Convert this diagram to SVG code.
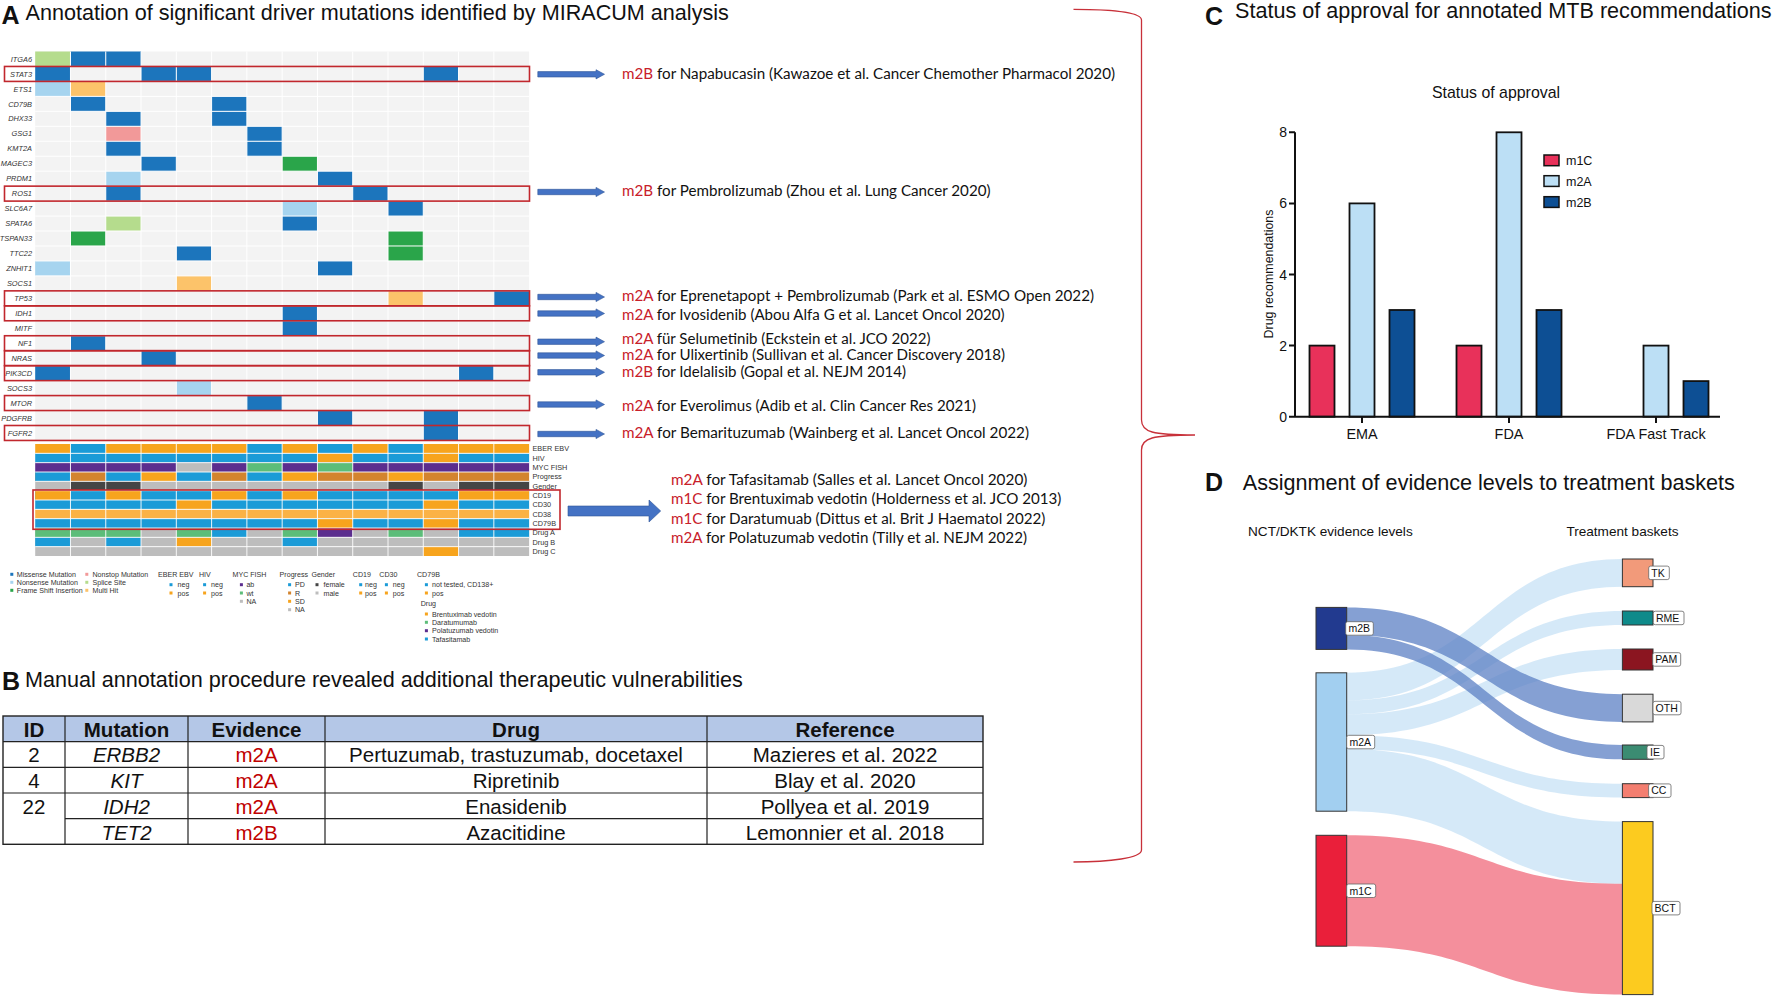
<svg xmlns="http://www.w3.org/2000/svg" width="1772" height="1000" viewBox="0 0 1772 1000">
<style>
text{font-family:"Liberation Sans",Arial,sans-serif;fill:#111}
.ttl{font-size:21.6px}
.lbl{font-size:25px;font-weight:bold}
.gene{font-size:7.4px;font-style:italic;fill:#333;text-anchor:end}
.trk{font-size:7.3px;fill:#333}
.leg{font-size:7.1px;fill:#333}
.cal{font-family:Lato,"Liberation Sans",sans-serif;font-size:14.5px;fill:#111}
.red{fill:#c8202a}
.mb{fill:#1c75bc}.lb{fill:#a6d4ef}.lg{fill:#b5dc8d}.gr{fill:#2aa54a}.or{fill:#fcc36a}.pk{fill:#f29999}
.aO{fill:#f7a41d}.aB{fill:#1b9bd7}.aP{fill:#5b2d8e}.aG{fill:#bdbdbd}.aGr{fill:#5cbd79}.aBr{fill:#d3842e}.aD{fill:#454545}.aL{fill:#fbb245}
.rbox{fill:none;stroke:#c1272d;stroke-width:1.6}
.arr{fill:#4472c4;stroke:#2f5597;stroke-width:0.6}
.tb{font-size:20.5px;text-anchor:middle}
.th{font-size:20.5px;font-weight:bold;text-anchor:middle}
.ev{fill:#c00000}
.bar{stroke:#111;stroke-width:1.8}
.ax{stroke:#111;stroke-width:2;fill:none}
.tick{font-size:14px;text-anchor:end}
.node{stroke:#333;stroke-width:1}
.slb{fill:#fff;stroke:#666;stroke-width:0.8}
.st{font-size:10.5px}
.l2a{fill:#a2cff0;opacity:0.45}
.l2b{fill:#5c80c4;opacity:0.75}
.l1c{fill:#ea1f3a;opacity:0.5}
</style>
<defs>
<path id="sarr" d="M537.8,-2.7 H596 V-4.6 L604.5,0 L596,4.6 V2.7 H537.8 Z"/>
</defs>
<rect width="1772" height="1000" fill="#fff"/>

<!-- Panel A title -->
<g id="titleA">
<text x="1.5" y="24" class="lbl">A</text>
<text x="25.5" y="19.5" class="ttl">Annotation of significant driver mutations identified by MIRACUM analysis</text>
</g>

<!-- Oncoprint -->
<g id="oncoprint">
<rect x="35.2" y="51.5" width="493.92" height="388.96" fill="#f3f3f3"/>
<g id="cells">
<rect class="lg" x="35.2" y="51.5" width="35.28" height="14.96"/>
<rect class="mb" x="70.48" y="51.5" width="35.28" height="14.96"/>
<rect class="mb" x="105.76" y="51.5" width="35.28" height="14.96"/>
<rect class="mb" x="35.2" y="66.46" width="35.28" height="14.96"/>
<rect class="mb" x="141.04" y="66.46" width="35.28" height="14.96"/>
<rect class="mb" x="176.32" y="66.46" width="35.28" height="14.96"/>
<rect class="mb" x="423.28" y="66.46" width="35.28" height="14.96"/>
<rect class="lb" x="35.2" y="81.42" width="35.28" height="14.96"/>
<rect class="or" x="70.48" y="81.42" width="35.28" height="14.96"/>
<rect class="mb" x="70.48" y="96.38" width="35.28" height="14.96"/>
<rect class="mb" x="211.6" y="96.38" width="35.28" height="14.96"/>
<rect class="mb" x="105.76" y="111.34" width="35.28" height="14.96"/>
<rect class="mb" x="211.6" y="111.34" width="35.28" height="14.96"/>
<rect class="pk" x="105.76" y="126.3" width="35.28" height="14.96"/>
<rect class="mb" x="246.88" y="126.3" width="35.28" height="14.96"/>
<rect class="mb" x="105.76" y="141.26" width="35.28" height="14.96"/>
<rect class="mb" x="246.88" y="141.26" width="35.28" height="14.96"/>
<rect class="mb" x="141.04" y="156.22" width="35.28" height="14.96"/>
<rect class="gr" x="282.16" y="156.22" width="35.28" height="14.96"/>
<rect class="lb" x="105.76" y="171.18" width="35.28" height="14.96"/>
<rect class="mb" x="317.44" y="171.18" width="35.28" height="14.96"/>
<rect class="mb" x="105.76" y="186.14" width="35.28" height="14.96"/>
<rect class="mb" x="352.72" y="186.14" width="35.28" height="14.96"/>
<rect class="lb" x="282.16" y="201.1" width="35.28" height="14.96"/>
<rect class="mb" x="388" y="201.1" width="35.28" height="14.96"/>
<rect class="lg" x="105.76" y="216.06" width="35.28" height="14.96"/>
<rect class="mb" x="282.16" y="216.06" width="35.28" height="14.96"/>
<rect class="gr" x="70.48" y="231.02" width="35.28" height="14.96"/>
<rect class="gr" x="388" y="231.02" width="35.28" height="14.96"/>
<rect class="mb" x="176.32" y="245.98" width="35.28" height="14.96"/>
<rect class="gr" x="388" y="245.98" width="35.28" height="14.96"/>
<rect class="lb" x="35.2" y="260.94" width="35.28" height="14.96"/>
<rect class="mb" x="317.44" y="260.94" width="35.28" height="14.96"/>
<rect class="or" x="176.32" y="275.9" width="35.28" height="14.96"/>
<rect class="or" x="388" y="290.86" width="35.28" height="14.96"/>
<rect class="mb" x="493.84" y="290.86" width="35.28" height="14.96"/>
<rect class="mb" x="282.16" y="305.82" width="35.28" height="14.96"/>
<rect class="mb" x="282.16" y="320.78" width="35.28" height="14.96"/>
<rect class="mb" x="70.48" y="335.74" width="35.28" height="14.96"/>
<rect class="mb" x="141.04" y="350.7" width="35.28" height="14.96"/>
<rect class="mb" x="35.2" y="365.66" width="35.28" height="14.96"/>
<rect class="mb" x="458.56" y="365.66" width="35.28" height="14.96"/>
<rect class="lb" x="176.32" y="380.62" width="35.28" height="14.96"/>
<rect class="mb" x="246.88" y="395.58" width="35.28" height="14.96"/>
<rect class="mb" x="317.44" y="410.54" width="35.28" height="14.96"/>
<rect class="mb" x="423.28" y="410.54" width="35.28" height="14.96"/>
<rect class="mb" x="423.28" y="425.5" width="35.28" height="14.96"/>
</g>
<path stroke="#fff" stroke-width="1" fill="none" d="M70.48,51.5V440.46M105.76,51.5V440.46M141.04,51.5V440.46M176.32,51.5V440.46M211.6,51.5V440.46M246.88,51.5V440.46M282.16,51.5V440.46M317.44,51.5V440.46M352.72,51.5V440.46M388,51.5V440.46M423.28,51.5V440.46M458.56,51.5V440.46M493.84,51.5V440.46M35.2,66.46H529.12M35.2,81.42H529.12M35.2,96.38H529.12M35.2,111.34H529.12M35.2,126.3H529.12M35.2,141.26H529.12M35.2,156.22H529.12M35.2,171.18H529.12M35.2,186.14H529.12M35.2,201.1H529.12M35.2,216.06H529.12M35.2,231.02H529.12M35.2,245.98H529.12M35.2,260.94H529.12M35.2,275.9H529.12M35.2,290.86H529.12M35.2,305.82H529.12M35.2,320.78H529.12M35.2,335.74H529.12M35.2,350.7H529.12M35.2,365.66H529.12M35.2,380.62H529.12M35.2,395.58H529.12M35.2,410.54H529.12M35.2,425.5H529.12"/>
<g id="genes">
<text class="gene" x="32" y="61.6">ITGA6</text>
<text class="gene" x="32" y="76.5">STAT3</text>
<text class="gene" x="32" y="91.5">ETS1</text>
<text class="gene" x="32" y="106.5">CD79B</text>
<text class="gene" x="32" y="121.4">DHX33</text>
<text class="gene" x="32" y="136.4">GSG1</text>
<text class="gene" x="32" y="151.3">KMT2A</text>
<text class="gene" x="32" y="166.3">MAGEC3</text>
<text class="gene" x="32" y="181.3">PRDM1</text>
<text class="gene" x="32" y="196.2">ROS1</text>
<text class="gene" x="32" y="211.2">SLC6A7</text>
<text class="gene" x="32" y="226.1">SPATA6</text>
<text class="gene" x="32" y="241.1">TSPAN33</text>
<text class="gene" x="32" y="256.1">TTC22</text>
<text class="gene" x="32" y="271">ZNHIT1</text>
<text class="gene" x="32" y="286">SOCS1</text>
<text class="gene" x="32" y="300.9">TP53</text>
<text class="gene" x="32" y="315.9">IDH1</text>
<text class="gene" x="32" y="330.9">MITF</text>
<text class="gene" x="32" y="345.8">NF1</text>
<text class="gene" x="32" y="360.8">NRAS</text>
<text class="gene" x="32" y="375.7">PIK3CD</text>
<text class="gene" x="32" y="390.7">SOCS3</text>
<text class="gene" x="32" y="405.7">MTOR</text>
<text class="gene" x="32" y="420.6">PDGFRB</text>
<text class="gene" x="32" y="435.6">FGFR2</text>
</g>
<g id="redboxes">
<rect class="rbox" x="4.5" y="66.46" width="525" height="14.96"/>
<rect class="rbox" x="4.5" y="186.14" width="525" height="14.96"/>
<rect class="rbox" x="4.5" y="290.86" width="525" height="14.96"/>
<rect class="rbox" x="4.5" y="305.82" width="525" height="14.96"/>
<rect class="rbox" x="4.5" y="335.74" width="525" height="14.96"/>
<rect class="rbox" x="4.5" y="350.7" width="525" height="14.96"/>
<rect class="rbox" x="4.5" y="365.66" width="525" height="14.96"/>
<rect class="rbox" x="4.5" y="395.58" width="525" height="14.96"/>
<rect class="rbox" x="4.5" y="425.5" width="525" height="14.96"/>
</g>
</g>

<!-- Annotation tracks -->
<g id="tracks">
<rect class="aO" x="35.2" y="444" width="493.92" height="9.33"/>
<rect class="aB" x="70.48" y="444" width="35.28" height="9.33"/>
<rect class="aB" x="246.88" y="444" width="35.28" height="9.33"/>
<rect class="aB" x="317.44" y="444" width="35.28" height="9.33"/>
<rect class="aB" x="388" y="444" width="35.28" height="9.33"/>
<rect class="aB" x="35.2" y="453.33" width="493.92" height="9.34"/>
<rect class="aO" x="317.44" y="453.33" width="35.28" height="9.34"/>
<rect class="aO" x="423.28" y="453.33" width="35.28" height="9.34"/>
<rect class="aP" x="35.2" y="462.67" width="493.92" height="9.33"/>
<rect class="aG" x="176.32" y="462.67" width="35.28" height="9.33"/>
<rect class="aGr" x="246.88" y="462.67" width="35.28" height="9.33"/>
<rect class="aGr" x="317.44" y="462.67" width="35.28" height="9.33"/>
<rect class="aBr" x="35.2" y="472" width="493.92" height="9.33"/>
<rect class="aB" x="35.2" y="472" width="35.28" height="9.33"/>
<rect class="aB" x="105.76" y="472" width="35.28" height="9.33"/>
<rect class="aB" x="176.32" y="472" width="35.28" height="9.33"/>
<rect class="aB" x="246.88" y="472" width="35.28" height="9.33"/>
<rect class="aO" x="141.04" y="472" width="35.28" height="9.33"/>
<rect class="aO" x="282.16" y="472" width="35.28" height="9.33"/>
<rect class="aO" x="388" y="472" width="35.28" height="9.33"/>
<rect class="aG" x="35.2" y="481.33" width="493.92" height="9.34"/>
<rect class="aD" x="70.48" y="481.33" width="70.56" height="9.34"/>
<rect class="aD" x="388" y="481.33" width="35.28" height="9.34"/>
<rect class="aD" x="458.56" y="481.33" width="70.56" height="9.34"/>
<rect class="aB" x="35.2" y="490.67" width="493.92" height="9.33"/>
<rect class="aO" x="35.2" y="490.67" width="35.28" height="9.33"/>
<rect class="aO" x="105.76" y="490.67" width="35.28" height="9.33"/>
<rect class="aO" x="211.6" y="490.67" width="35.28" height="9.33"/>
<rect class="aO" x="282.16" y="490.67" width="35.28" height="9.33"/>
<rect class="aO" x="458.56" y="490.67" width="70.56" height="9.33"/>
<rect class="aB" x="35.2" y="500" width="493.92" height="9.33"/>
<rect class="aO" x="176.32" y="500" width="35.28" height="9.33"/>
<rect class="aO" x="423.28" y="500" width="35.28" height="9.33"/>
<rect class="aL" x="35.2" y="509.33" width="493.92" height="9.34"/>
<rect class="aB" x="35.2" y="518.67" width="493.92" height="9.33"/>
<rect class="aO" x="317.44" y="518.67" width="35.28" height="9.33"/>
<rect class="aO" x="423.28" y="518.67" width="35.28" height="9.33"/>
<rect class="aG" x="35.2" y="528" width="493.92" height="9.33"/>
<rect class="aGr" x="35.2" y="528" width="105.84" height="9.33"/>
<rect class="aGr" x="176.32" y="528" width="35.28" height="9.33"/>
<rect class="aGr" x="282.16" y="528" width="35.28" height="9.33"/>
<rect class="aGr" x="388" y="528" width="35.28" height="9.33"/>
<rect class="aB" x="211.6" y="528" width="35.28" height="9.33"/>
<rect class="aB" x="458.56" y="528" width="70.56" height="9.33"/>
<rect class="aP" x="317.44" y="528" width="35.28" height="9.33"/>
<rect class="aG" x="35.2" y="537.33" width="493.92" height="9.34"/>
<rect class="aB" x="35.2" y="537.33" width="35.28" height="9.34"/>
<rect class="aB" x="105.76" y="537.33" width="35.28" height="9.34"/>
<rect class="aB" x="282.16" y="537.33" width="35.28" height="9.34"/>
<rect class="aO" x="176.32" y="537.33" width="35.28" height="9.34"/>
<rect class="aG" x="35.2" y="546.67" width="493.92" height="9.33"/>
<rect class="aO" x="423.28" y="546.67" width="35.28" height="9.33"/>
<path stroke="#fff" stroke-width="0.9" fill="none" d="M70.48,444V556M105.76,444V556M141.04,444V556M176.32,444V556M211.6,444V556M246.88,444V556M282.16,444V556M317.44,444V556M352.72,444V556M388,444V556M423.28,444V556M458.56,444V556M493.84,444V556M35.2,453.33H529.12M35.2,462.67H529.12M35.2,472H529.12M35.2,481.33H529.12M35.2,490.67H529.12M35.2,500H529.12M35.2,509.33H529.12M35.2,518.67H529.12M35.2,528H529.12M35.2,537.33H529.12M35.2,546.67H529.12"/>
<text class="trk" x="532.5" y="451.3">EBER EBV</text>
<text class="trk" x="532.5" y="460.6">HIV</text>
<text class="trk" x="532.5" y="470">MYC FISH</text>
<text class="trk" x="532.5" y="479.3">Progress</text>
<text class="trk" x="532.5" y="488.6">Gender</text>
<text class="trk" x="532.5" y="498">CD19</text>
<text class="trk" x="532.5" y="507.3">CD30</text>
<text class="trk" x="532.5" y="516.6">CD38</text>
<text class="trk" x="532.5" y="526">CD79B</text>
<text class="trk" x="532.5" y="535.3">Drug A</text>
<text class="trk" x="532.5" y="544.6">Drug B</text>
<text class="trk" x="532.5" y="554">Drug C</text>
<rect class="rbox" x="33" y="490" width="527" height="39.3"/>
</g>

<!-- Legend -->
<g id="legend">
<rect class="mb" x="10.3" y="572.8" width="3" height="3"/><text class="leg" x="16.8" y="576.8">Missense Mutation</text>
<rect class="lb" x="10.3" y="580.8" width="3" height="3"/><text class="leg" x="16.8" y="584.8">Nonsense Mutation</text>
<rect class="gr" x="10.3" y="588.8" width="3" height="3"/><text class="leg" x="16.8" y="592.8">Frame Shift Insertion</text>
<rect class="pk" x="85.3" y="572.8" width="3" height="3"/><text class="leg" x="92.5" y="576.8">Nonstop Mutation</text>
<rect class="lg" x="85.3" y="580.8" width="3" height="3"/><text class="leg" x="92.5" y="584.8">Splice Site</text>
<rect class="or" x="85.3" y="588.8" width="3" height="3"/><text class="leg" x="92.5" y="592.8">Multi Hit</text>
<text class="leg" x="158" y="576.8">EBER EBV</text>
<text class="leg" x="199" y="576.8">HIV</text>
<text class="leg" x="232.5" y="576.8">MYC FISH</text>
<text class="leg" x="279.6" y="576.8">Progress</text>
<text class="leg" x="311.4" y="576.8">Gender</text>
<text class="leg" x="352.8" y="576.8">CD19</text>
<text class="leg" x="379.3" y="576.8">CD30</text>
<text class="leg" x="417" y="576.8">CD79B</text>
<rect class="aB" x="169.5" y="583.2" width="3" height="3"/><text class="leg" x="177.5" y="587.2">neg</text>
<rect class="aO" x="169.5" y="591.5" width="3" height="3"/><text class="leg" x="177.5" y="595.5">pos</text>
<rect class="aB" x="203.1" y="583.2" width="3" height="3"/><text class="leg" x="211" y="587.2">neg</text>
<rect class="aO" x="203.1" y="591.5" width="3" height="3"/><text class="leg" x="211" y="595.5">pos</text>
<rect class="aP" x="239.9" y="583.2" width="3" height="3"/><text class="leg" x="246.4" y="587.2">ab</text>
<rect class="aGr" x="239.9" y="591.5" width="3" height="3"/><text class="leg" x="246.4" y="595.5">wt</text>
<rect class="aG" x="239.9" y="599.8" width="3" height="3"/><text class="leg" x="246.4" y="603.8">NA</text>
<rect class="aB" x="288.1" y="583.2" width="3" height="3"/><text class="leg" x="295" y="587.2">PD</text>
<rect class="aBr" x="288.1" y="591.5" width="3" height="3"/><text class="leg" x="295" y="595.5">R</text>
<rect class="aO" x="288.1" y="599.8" width="3" height="3"/><text class="leg" x="295" y="603.8">SD</text>
<rect class="aG" x="288.1" y="608.2" width="3" height="3"/><text class="leg" x="295" y="612.2">NA</text>
<rect class="aD" x="315.5" y="583.2" width="3" height="3"/><text class="leg" x="323.5" y="587.2">female</text>
<rect class="aG" x="315.5" y="591.5" width="3" height="3"/><text class="leg" x="323.5" y="595.5">male</text>
<rect class="aB" x="359.2" y="583.2" width="3" height="3"/><text class="leg" x="365" y="587.2">neg</text>
<rect class="aO" x="359.2" y="591.5" width="3" height="3"/><text class="leg" x="365" y="595.5">pos</text>
<rect class="aB" x="384.9" y="583.2" width="3" height="3"/><text class="leg" x="392.8" y="587.2">neg</text>
<rect class="aO" x="384.9" y="591.5" width="3" height="3"/><text class="leg" x="392.8" y="595.5">pos</text>
<rect class="aB" x="424.9" y="583.2" width="3" height="3"/><text class="leg" x="432" y="587.2">not tested, CD138+</text>
<rect class="aO" x="424.9" y="591.5" width="3" height="3"/><text class="leg" x="432" y="595.5">pos</text>
<text class="leg" x="420.7" y="605.8">Drug</text>
<rect class="aO" x="424.9" y="612.5" width="3" height="3"/><text class="leg" x="432" y="616.5">Brentuximab vedotin</text>
<rect class="aGr" x="424.9" y="620.8" width="3" height="3"/><text class="leg" x="432" y="624.8">Daratumumab</text>
<rect class="aP" x="424.9" y="629.2" width="3" height="3"/><text class="leg" x="432" y="633.2">Polatuzumab vedotin</text>
<rect class="aB" x="424.9" y="637.5" width="3" height="3"/><text class="leg" x="432" y="641.5">Tafasitamab</text>
</g>

<!-- Connectors -->
<g id="connectors">
<use href="#sarr" class="arr" y="74.3"/>
<use href="#sarr" class="arr" y="192"/>
<use href="#sarr" class="arr" y="297"/>
<use href="#sarr" class="arr" y="313.5"/>
<use href="#sarr" class="arr" y="341.7"/>
<use href="#sarr" class="arr" y="355.5"/>
<use href="#sarr" class="arr" y="372.3"/>
<use href="#sarr" class="arr" y="404.5"/>
<use href="#sarr" class="arr" y="434"/>
<path class="arr" d="M568,506 H649 V500 L660.7,511 L649,522 V516 H568 Z"/>
<path fill="none" stroke="#c8313a" stroke-width="1.3" d="M1073.5,9.3 C1110,9.3 1141.5,12 1141.5,20 L1141.5,420 C1141.5,432 1152,435 1195,435 C1152,435 1141.5,438 1141.5,450 L1141.5,850 C1141.5,858 1110,862 1073.5,862"/>
</g>

<!-- Annotations text -->
<g id="recs">
<text class="cal" x="622" y="79.3" textLength="493" lengthAdjust="spacingAndGlyphs"><tspan class="red">m2B</tspan> for Napabucasin (Kawazoe et al. Cancer Chemother Pharmacol 2020)</text>
<text class="cal" x="622" y="195.7" textLength="368.6" lengthAdjust="spacingAndGlyphs"><tspan class="red">m2B</tspan> for Pembrolizumab (Zhou et al. Lung Cancer 2020)</text>
<text class="cal" x="622" y="300.5" textLength="472" lengthAdjust="spacingAndGlyphs"><tspan class="red">m2A</tspan> for Eprenetapopt + Pembrolizumab (Park et al. ESMO Open 2022)</text>
<text class="cal" x="622" y="319.5" textLength="382.5" lengthAdjust="spacingAndGlyphs"><tspan class="red">m2A</tspan> for Ivosidenib (Abou Alfa G et al. Lancet Oncol 2020)</text>
<text class="cal" x="622" y="344" textLength="308.5" lengthAdjust="spacingAndGlyphs"><tspan class="red">m2A</tspan> für Selumetinib (Eckstein et al. JCO 2022)</text>
<text class="cal" x="622" y="359.5" textLength="383" lengthAdjust="spacingAndGlyphs"><tspan class="red">m2A</tspan> for Ulixertinib (Sullivan et al. Cancer Discovery 2018)</text>
<text class="cal" x="622" y="376.5" textLength="284" lengthAdjust="spacingAndGlyphs"><tspan class="red">m2B</tspan> for Idelalisib (Gopal et al. NEJM 2014)</text>
<text class="cal" x="622" y="410.5" textLength="354" lengthAdjust="spacingAndGlyphs"><tspan class="red">m2A</tspan> for Everolimus (Adib et al. Clin Cancer Res 2021)</text>
<text class="cal" x="622" y="438.3" textLength="407" lengthAdjust="spacingAndGlyphs"><tspan class="red">m2A</tspan> for Bemarituzumab (Wainberg et al. Lancet Oncol 2022)</text>
<text class="cal" x="671" y="484.5" textLength="356.4" lengthAdjust="spacingAndGlyphs"><tspan class="red">m2A</tspan> for Tafasitamab (Salles et al. Lancet Oncol 2020)</text>
<text class="cal" x="671" y="504" textLength="390.4" lengthAdjust="spacingAndGlyphs"><tspan class="red">m1C</tspan> for Brentuximab vedotin (Holderness et al. JCO 2013)</text>
<text class="cal" x="671" y="523.5" textLength="374.4" lengthAdjust="spacingAndGlyphs"><tspan class="red">m1C</tspan> for Daratumuab (Dittus et al. Brit J Haematol 2022)</text>
<text class="cal" x="671" y="543" textLength="356" lengthAdjust="spacingAndGlyphs"><tspan class="red">m2A</tspan> for Polatuzumab vedotin (Tilly et al. NEJM 2022)</text>
</g>

<!-- Panel B -->
<g id="panelB">
<text x="2" y="690" class="lbl">B</text>
<text x="25" y="686.7" class="ttl">Manual annotation procedure revealed additional therapeutic vulnerabilities</text>
<rect x="3" y="716" width="980" height="25.7" fill="#b4c7e7"/>
<rect x="3" y="716" width="980" height="128.3" fill="none" stroke="#222" stroke-width="1.4"/>
<path stroke="#222" stroke-width="1.2" fill="none" d="M65,716V844.3M188,716V844.3M325,716V844.3M707,716V844.3M3,741.7H983M3,767.3H983M3,793H983M65,818.7H983"/>
<text class="th" x="34" y="736.7">ID</text>
<text class="th" x="126.5" y="736.7">Mutation</text>
<text class="th" x="256.5" y="736.7">Evidence</text>
<text class="th" x="516" y="736.7">Drug</text>
<text class="th" x="845" y="736.7">Reference</text>
<text class="tb" x="34" y="761.7">2</text>
<text class="tb" x="126.5" y="761.7" font-style="italic">ERBB2</text>
<text class="tb ev" x="256.5" y="761.7">m2A</text>
<text class="tb" x="516" y="761.7">Pertuzumab, trastuzumab, docetaxel</text>
<text class="tb" x="845" y="761.7">Mazieres et al. 2022</text>
<text class="tb" x="34" y="787.5">4</text>
<text class="tb" x="126.5" y="787.5" font-style="italic">KIT</text>
<text class="tb ev" x="256.5" y="787.5">m2A</text>
<text class="tb" x="516" y="787.5">Ripretinib</text>
<text class="tb" x="845" y="787.5">Blay et al. 2020</text>
<text class="tb" x="34" y="813.5">22</text>
<text class="tb" x="126.5" y="813.5" font-style="italic">IDH2</text>
<text class="tb ev" x="256.5" y="813.5">m2A</text>
<text class="tb" x="516" y="813.5">Enasidenib</text>
<text class="tb" x="845" y="813.5">Pollyea et al. 2019</text>
<text class="tb" x="126.5" y="839.5" font-style="italic">TET2</text>
<text class="tb ev" x="256.5" y="839.5">m2B</text>
<text class="tb" x="516" y="839.5">Azacitidine</text>
<text class="tb" x="845" y="839.5">Lemonnier et al. 2018</text>
</g>

<!-- Panel C -->
<g id="panelC">
<text x="1205" y="25" class="lbl">C</text>
<text x="1235" y="18" class="ttl">Status of approval for annotated MTB recommendations</text>
<text x="1496" y="97.5" font-size="15.9" text-anchor="middle">Status of approval</text>
<text transform="translate(1273,274) rotate(-90)" font-size="12.4" text-anchor="middle">Drug recommendations</text>
<rect class="bar" x="1309.5" y="345.6" width="25" height="71.1" fill="#e8315a"/>
<rect class="bar" x="1349.5" y="203.4" width="25" height="213.3" fill="#bcdff5"/>
<rect class="bar" x="1389.5" y="310" width="25" height="106.7" fill="#0d4f94"/>
<rect class="bar" x="1456.5" y="345.6" width="25" height="71.1" fill="#e8315a"/>
<rect class="bar" x="1496.5" y="132.3" width="25" height="284.4" fill="#bcdff5"/>
<rect class="bar" x="1536.5" y="310" width="25" height="106.7" fill="#0d4f94"/>
<rect class="bar" x="1643.5" y="345.6" width="25" height="71.1" fill="#bcdff5"/>
<rect class="bar" x="1683.5" y="381.1" width="25" height="35.6" fill="#0d4f94"/>
<path class="ax" d="M1295,132.3V416.7H1720M1289,132.3H1295M1289,203.4H1295M1289,274.5H1295M1289,345.6H1295M1289,416.7H1295M1362,416.7V423M1509,416.7V423M1656,416.7V423"/>
<text class="tick" x="1287" y="137.3">8</text>
<text class="tick" x="1287" y="208.4">6</text>
<text class="tick" x="1287" y="279.5">4</text>
<text class="tick" x="1287" y="350.6">2</text>
<text class="tick" x="1287" y="421.7">0</text>
<text x="1362" y="438.5" font-size="14.4" text-anchor="middle">EMA</text>
<text x="1509" y="438.5" font-size="14.4" text-anchor="middle">FDA</text>
<text x="1656" y="438.5" font-size="14.4" text-anchor="middle">FDA Fast Track</text>
<rect x="1544" y="155" width="15" height="10.7" fill="#e8315a" stroke="#111" stroke-width="1.5"/>
<rect x="1544" y="175.7" width="15" height="10.7" fill="#bcdff5" stroke="#111" stroke-width="1.5"/>
<rect x="1544" y="196.7" width="15" height="10.7" fill="#0d4f94" stroke="#111" stroke-width="1.5"/>
<text x="1566" y="165" font-size="12.5">m1C</text>
<text x="1566" y="185.5" font-size="12.5">m2A</text>
<text x="1566" y="206.5" font-size="12.5">m2B</text>
</g>

<!-- Panel D -->
<g id="panelD">
<text x="1205" y="491" class="lbl">D</text>
<text x="1242.8" y="489.5" class="ttl">Assignment of evidence levels to treatment baskets</text>
<text x="1248" y="536" font-size="13.6">NCT/DKTK evidence levels</text>
<text x="1566.4" y="536" font-size="13.6">Treatment baskets</text>
<g id="links">
<path class="l2a" d="M1346.7,672.8C1484.5,672.8 1484.5,559 1622.4,559L1622.4,586.7C1484.5,586.7 1484.5,700.5 1346.7,700.5Z"/>
<path class="l2a" d="M1346.7,700.5C1484.5,700.5 1484.5,611 1622.4,611L1622.4,625C1484.5,625 1484.5,714.4 1346.7,714.4Z"/>
<path class="l2a" d="M1346.7,714.4C1484.5,714.4 1484.5,649 1622.4,649L1622.4,670C1484.5,670 1484.5,735.2 1346.7,735.2Z"/>
<path class="l2a" d="M1346.7,735.2C1484.5,735.2 1484.5,783.7 1622.4,783.7L1622.4,797.6C1484.5,797.6 1484.5,749.1 1346.7,749.1Z"/>
<path class="l2a" d="M1346.7,749.1C1484.5,749.1 1484.5,821.6 1622.4,821.6L1622.4,883.7C1484.5,883.7 1484.5,811.2 1346.7,811.2Z"/>
<path class="l2b" d="M1346.7,607.4C1484.5,607.4 1484.5,694.2 1622.4,694.2L1622.4,721.9C1484.5,721.9 1484.5,635.1 1346.7,635.1Z"/>
<path class="l2b" d="M1346.7,635.1C1484.5,635.1 1484.5,745 1622.4,745L1622.4,759.3C1484.5,759.3 1484.5,649.4 1346.7,649.4Z"/>
<path class="l1c" d="M1346.7,835.3C1484.5,835.3 1484.5,883.7 1622.4,883.7L1622.4,994.6C1484.5,994.6 1484.5,946.2 1346.7,946.2Z"/>
</g>
<g id="n-m2B"><rect class="node" x="1316" y="607.4" width="30.7" height="42" fill="#223a8f"/><rect class="slb" x="1345.7" y="621.7" width="27.6" height="13.5" rx="2"/><text class="st" x="1348.5" y="632.2">m2B</text></g>
<g id="n-m2A"><rect class="node" x="1316" y="672.8" width="30.7" height="138.4" fill="#a2cff0"/><rect class="slb" x="1346.7" y="735.3" width="28" height="13.5" rx="2"/><text class="st" x="1349.5" y="745.8">m2A</text></g>
<g id="n-m1C"><rect class="node" x="1316" y="835.3" width="30.7" height="110.9" fill="#ea1f3a"/><rect class="slb" x="1346.7" y="884" width="29" height="13.5" rx="2"/><text class="st" x="1349.5" y="894.5">m1C</text></g>
<g id="n-TK"><rect class="node" x="1622.4" y="559" width="30.6" height="27.7" fill="#f29a7a"/><rect class="slb" x="1648.7" y="566.1" width="20.6" height="13.5" rx="2"/><text class="st" x="1651.3" y="576.6">TK</text></g>
<g id="n-RME"><rect class="node" x="1622.4" y="611" width="30.6" height="14" fill="#0e8a8a"/><rect class="slb" x="1653.3" y="611.2" width="30.7" height="13.5" rx="2"/><text class="st" x="1656" y="621.7">RME</text></g>
<g id="n-PAM"><rect class="node" x="1622.4" y="649" width="30.6" height="21" fill="#8b1520"/><rect class="slb" x="1652.7" y="652.7" width="28" height="13.5" rx="2"/><text class="st" x="1655.3" y="663.2">PAM</text></g>
<g id="n-OTH"><rect class="node" x="1622.4" y="694.2" width="30.6" height="27.7" fill="#d9d9d9"/><rect class="slb" x="1653" y="701.3" width="28" height="13.5" rx="2"/><text class="st" x="1655.6" y="711.8">OTH</text></g>
<g id="n-IE"><rect class="node" x="1622.4" y="745" width="30.6" height="14.3" fill="#3b8c72"/><rect class="slb" x="1647" y="745.4" width="17" height="13.5" rx="2"/><text class="st" x="1650" y="755.9">IE</text></g>
<g id="n-CC"><rect class="node" x="1622.4" y="783.7" width="30.6" height="13.9" fill="#f37e70"/><rect class="slb" x="1648.6" y="783.9" width="22.4" height="13.5" rx="2"/><text class="st" x="1651.2" y="794.4">CC</text></g>
<g id="n-BCT"><rect class="node" x="1622.4" y="821.6" width="30.6" height="173" fill="#fccb1f"/><rect class="slb" x="1652" y="901.4" width="28" height="13.5" rx="2"/><text class="st" x="1654.6" y="911.9">BCT</text></g>
</g>
</svg>
